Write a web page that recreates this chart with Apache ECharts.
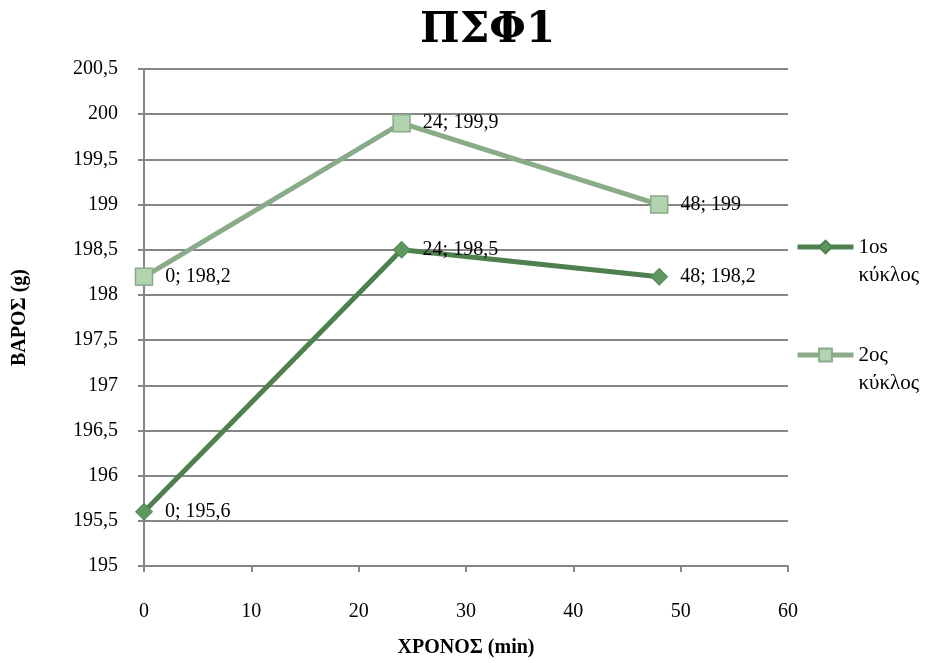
<!DOCTYPE html>
<html>
<head>
<meta charset="utf-8">
<script src="https://cdn.jsdelivr.net/npm/echarts@6/dist/echarts.min.js"></script>
<style>
  html, body { margin: 0; padding: 0; background: #fff; }
  #chart { width: 934px; height: 663px; }
</style>
</head>
<body>
<div id="chart"></div>
<script>
// Time points (min) and weights (g) for the two cycles
const times = [0, 24, 48];
const cycle1 = [195.6, 198.5, 198.2];
const cycle2 = [198.2, 199.9, 199];
const seriesNames = ['1os\nκύκλος', '2ος\nκύκλος'];

const fmt = v => String(v).replace('.', ',');
const toPairs = ys => times.map((t, i) => [t, ys[i]]);

const serif = '"Liberation Serif", "DejaVu Serif", serif';

const chart = echarts.init(document.getElementById('chart'));
chart.setOption({
  animation: false,
  title: {
    text: 'ΠΣΦ1',
    left: 415,
    top: 5,
    textStyle: { fontFamily: '"DejaVu Serif", serif', fontWeight: 'bold', fontSize: 42, color: '#000' }
  },
  grid: { left: 144, right: 146, top: 69, bottom: 97, outerBoundsMode: 'none' },
  legend: {
    orient: 'vertical',
    left: 790,
    top: 200,
    itemWidth: 56,
    itemHeight: 16,
    itemGap: 24,
    lineStyle: { width: 5 },
    // leading empty line keeps the symbol level with the first text line
    formatter: name => ' \n' + name,
    textStyle: { fontFamily: serif, fontSize: 21, color: '#000', lineHeight: 28 },
    data: seriesNames
  },
  xAxis: {
    type: 'value',
    min: 0, max: 60, interval: 10,
    name: 'ΧΡΟΝΟΣ (min)',
    nameLocation: 'middle',
    nameGap: 72,
    nameTextStyle: { fontFamily: serif, fontWeight: 'bold', fontSize: 20, color: '#000' },
    axisLine: { lineStyle: { color: '#868686', width: 2 } },
    axisTick: { show: true, length: 6, lineStyle: { color: '#868686', width: 2 } },
    axisLabel: { fontFamily: serif, fontSize: 20, color: '#000', margin: 36 },
    splitLine: { show: false }
  },
  yAxis: {
    type: 'value',
    min: 195, max: 200.5, interval: 0.5,
    name: 'ΒΑΡΟΣ (g)',
    nameLocation: 'middle',
    nameGap: 114,
    nameTextStyle: { fontFamily: serif, fontWeight: 'bold', fontSize: 20, color: '#000' },
    axisLine: { show: true, lineStyle: { color: '#868686', width: 2 } },
    axisTick: { show: true, length: 6, lineStyle: { color: '#868686', width: 2 } },
    axisLabel: { fontFamily: serif, fontSize: 20, color: '#000', margin: 26, formatter: v => fmt(v) },
    splitLine: { show: true, lineStyle: { color: '#868686', width: 2 } }
  },
  series: [
    {
      name: seriesNames[0],
      type: 'line',
      data: toPairs(cycle1),
      symbol: 'diamond',
      symbolSize: 17,
      lineStyle: { color: '#4e8050', width: 5 },
      itemStyle: { color: '#5e9860', borderColor: '#4e8050', borderWidth: 1 },
      label: {
        show: true, position: 'right', distance: 12,
        fontFamily: serif, fontSize: 20, color: '#000',
        formatter: p => p.value[0] + '; ' + fmt(p.value[1])
      },
      z: 3
    },
    {
      name: seriesNames[1],
      type: 'line',
      data: toPairs(cycle2),
      symbol: 'rect',
      symbolSize: 17,
      lineStyle: { color: '#8aab88', width: 5 },
      itemStyle: { color: '#b2d3b0', borderColor: '#8aab88', borderWidth: 1.5 },
      label: {
        show: true, position: 'right', distance: 12,
        fontFamily: serif, fontSize: 20, color: '#000',
        formatter: p => p.value[0] + '; ' + fmt(p.value[1])
      },
      z: 2
    }
  ]
});
</script>
</body>
</html>
